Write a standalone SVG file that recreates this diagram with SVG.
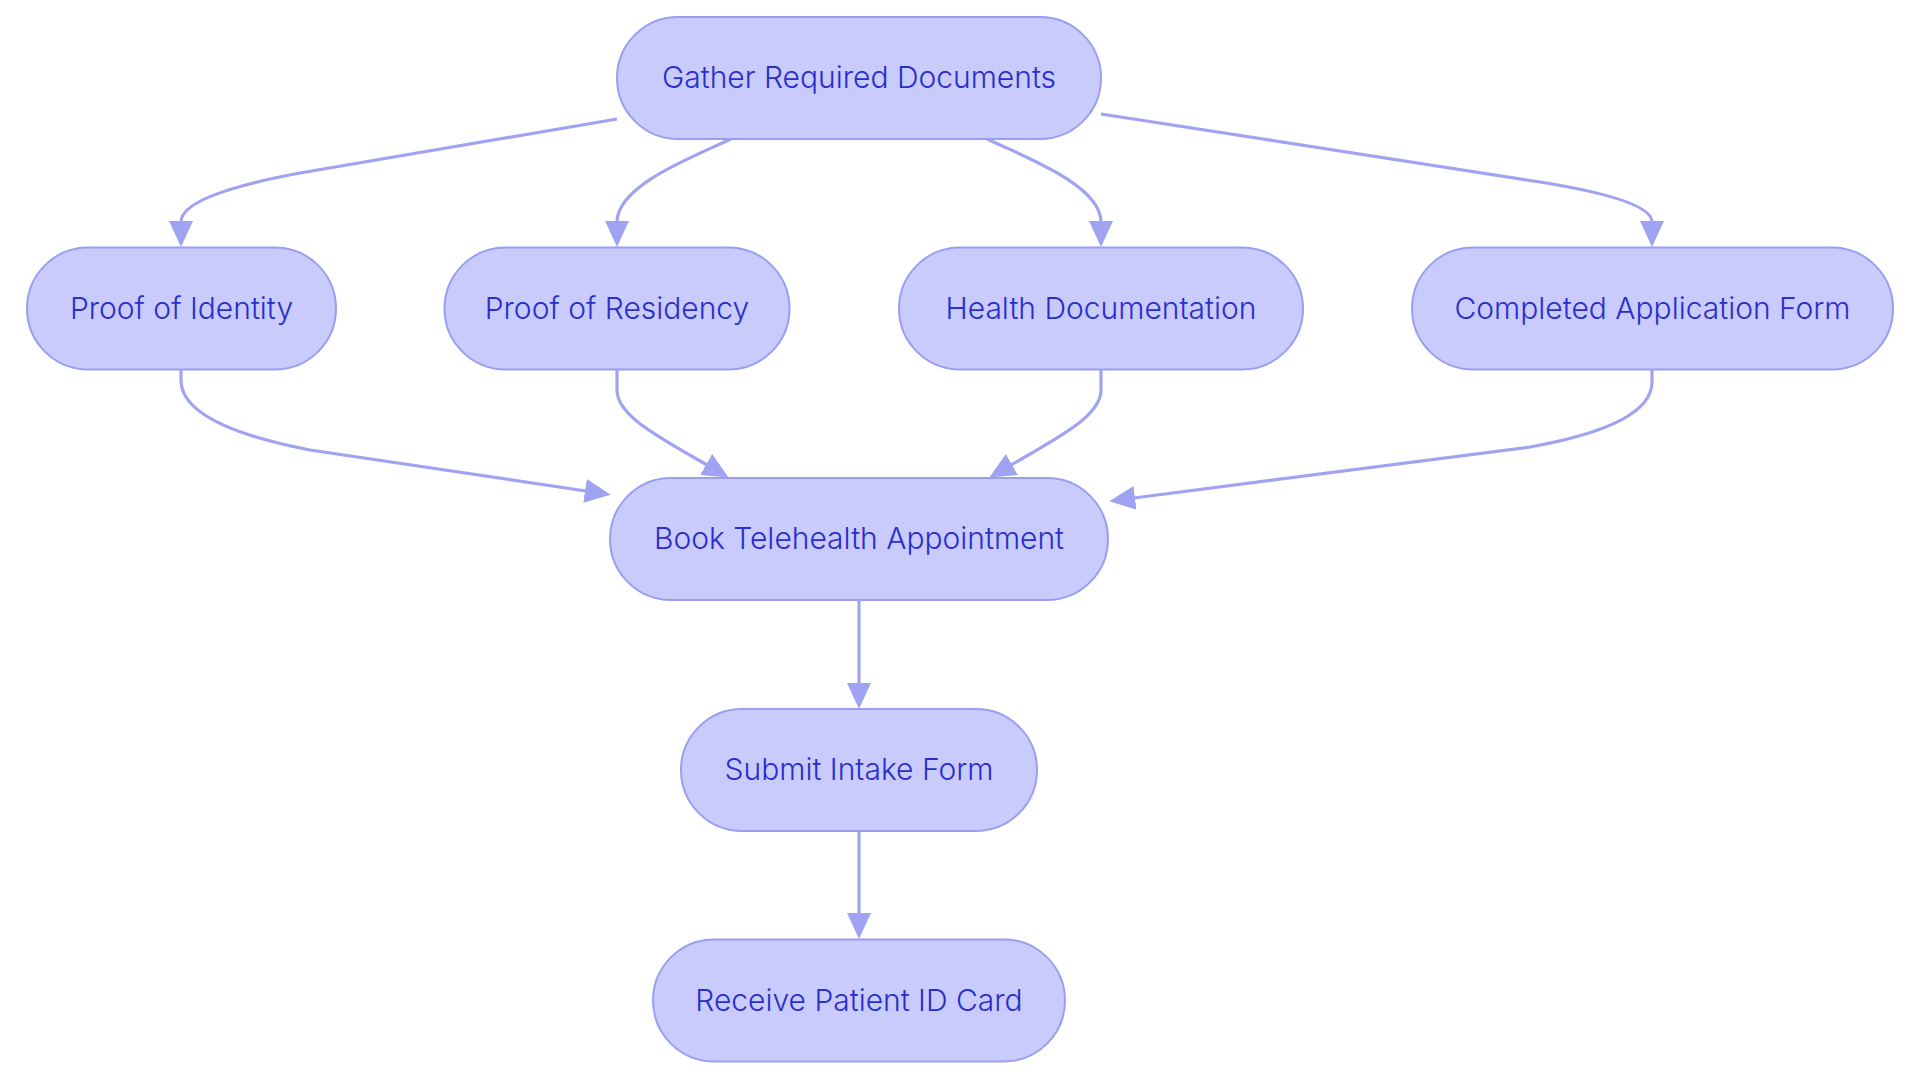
<svg xmlns="http://www.w3.org/2000/svg" width="1920" height="1083" viewBox="0 0 1920 1083">
<style>
.node rect{fill:#C9CBFC;stroke:#9A9EF0;stroke-width:2}
.node text{fill:#2A2ECB;font-family:Inter,"Noto Sans",sans-serif;font-size:30px;font-weight:300;text-anchor:middle}
.edge{fill:none;stroke:#A0A3F2;stroke-width:3.2}
</style>
<defs>
<marker id="arrow" markerUnits="userSpaceOnUse" viewBox="0 0 26 24" refX="1" refY="12" markerWidth="26" markerHeight="24" orient="auto">
<path d="M0,0 L26,12 L0,24 z" fill="#A0A3F2"/>
</marker>
</defs>
<rect width="1920" height="1083" fill="#FFFFFF"/>
<g id="connectors">
<path class="edge" marker-end="url(#arrow)" d="M617,119 L300,173 Q181,195 181,222"/>
<path class="edge" marker-end="url(#arrow)" d="M731,139 C695,156 617,185 617,222"/>
<path class="edge" marker-end="url(#arrow)" d="M987,139 C1023,156 1101,185 1101,222"/>
<path class="edge" marker-end="url(#arrow)" d="M1101,114 L1540,182 Q1652,200 1652,222"/>
<path class="edge" marker-end="url(#arrow)" d="M181,370 L181,380 Q181,425 310,450 L586,491"/>
<path class="edge" marker-end="url(#arrow)" d="M617,370 L617,390 C617,415 655,435 707,465"/>
<path class="edge" marker-end="url(#arrow)" d="M1101,370 L1101,390 C1101,415 1063,435 1011,465"/>
<path class="edge" marker-end="url(#arrow)" d="M1652,370 L1652,382 Q1652,425 1530,447 L1134,498"/>
<path class="edge" marker-end="url(#arrow)" d="M859,600 L859,684"/>
<path class="edge" marker-end="url(#arrow)" d="M859,831 L859,914"/>
</g>
<g id="gather" class="node"><rect x="617" y="17" width="484" height="122" rx="61" ry="61"/><text x="859" y="88">Gather Required Documents</text></g>
<g id="identity" class="node"><rect x="27" y="247.5" width="309" height="122" rx="61" ry="61"/><text x="181.5" y="318.5">Proof of Identity</text></g>
<g id="residency" class="node"><rect x="444.5" y="247.5" width="345" height="122" rx="61" ry="61"/><text x="617" y="318.5">Proof of Residency</text></g>
<g id="health" class="node"><rect x="899" y="247.5" width="404" height="122" rx="61" ry="61"/><text x="1101" y="318.5">Health Documentation</text></g>
<g id="application" class="node"><rect x="1412" y="247.5" width="481" height="122" rx="61" ry="61"/><text x="1652.5" y="318.5">Completed Application Form</text></g>
<g id="book" class="node"><rect x="610" y="478" width="498" height="122" rx="61" ry="61"/><text x="859" y="549">Book Telehealth Appointment</text></g>
<g id="submit" class="node"><rect x="681" y="709" width="356" height="122" rx="61" ry="61"/><text x="859" y="780">Submit Intake Form</text></g>
<g id="receive" class="node"><rect x="653" y="939.5" width="412" height="122" rx="61" ry="61"/><text x="859" y="1010.5">Receive Patient ID Card</text></g>
</svg>
